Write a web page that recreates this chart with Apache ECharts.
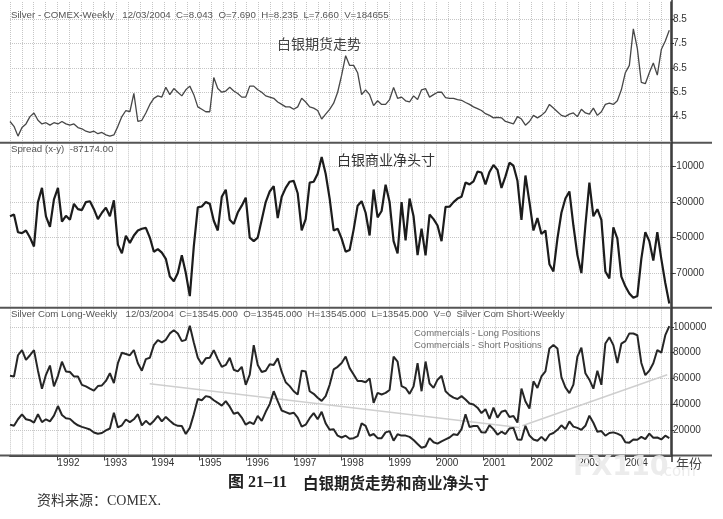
<!DOCTYPE html>
<html>
<head>
<meta charset="utf-8">
<title>白银期货走势和商业净头寸</title>
<script src="https://cdn.jsdelivr.net/npm/echarts@6/dist/echarts.min.js"></script>
<style>
html, body { margin: 0; padding: 0; background: #fff; }
#main { width: 723px; height: 519px; }
</style>
</head>
<body>
<div id="main"></div>
<script>
// 取样日期：约每 4.4 周一个点，从 1991 年初开始
var sampleCount = 166;
var sampleStep = 4 / 47.4;
var sampleDates = [];
for (var i = 0; i < sampleCount; i++) {
  sampleDates.push(+(1991 + i * sampleStep).toFixed(4));
}

// 白银期货价格（美元/盎司）
var silverPrice = [
  4.3, 4.1, 3.7, 4.05, 4.2, 4.5, 4.65, 4.35, 4.2, 4.25,
  4.15, 4.25, 4.2, 4.3, 4.2, 4.15, 4.2, 4.05, 4.0, 3.9,
  3.85, 3.9, 3.8, 3.85, 3.75, 3.7, 3.75, 4.1, 4.5, 4.75,
  4.7, 5.45, 4.3, 4.35, 4.65, 5.0, 5.25, 5.35, 5.3, 5.7,
  5.4, 5.65, 5.5, 5.35, 5.6, 5.75, 5.4, 4.9, 4.8, 4.7,
  4.7, 6.1, 5.65, 5.5, 5.55, 5.7, 5.55, 5.45, 5.3, 5.3,
  5.75, 5.75, 5.6, 5.5, 5.35, 5.3, 5.25, 5.1, 5.0, 4.9,
  4.9, 4.8, 4.9, 5.25, 5.1, 4.9, 4.85, 4.75, 4.4, 4.6,
  4.8, 5.05, 5.5, 6.2, 7.0, 6.6, 6.6, 6.3, 5.4, 5.6,
  5.4, 4.95, 5.15, 5.0, 5.0, 5.2, 5.7, 5.25, 5.3, 5.15,
  5.1, 5.35, 5.2, 5.6, 5.65, 5.3, 5.4, 5.5, 5.5, 5.28,
  5.25, 5.25, 5.2, 5.17, 5.08, 5.0, 4.9, 4.83, 4.75, 4.62,
  4.55, 4.45, 4.47, 4.45, 4.3, 4.25, 4.2, 4.5, 4.4, 4.15,
  4.3, 4.55, 4.45, 4.55, 4.7, 5.0, 4.85, 4.7, 4.55, 4.5,
  4.6, 4.65, 4.5, 4.8, 4.65, 4.6, 4.85, 4.55, 4.7, 5.0,
  5.05, 5.0, 5.15, 5.6, 6.3, 6.6, 8.1, 7.3, 5.9, 5.85,
  6.3, 6.7, 6.2, 7.25, 7.6, 8.04
];

// 商业净头寸 Spread (x-y)
var netSpread = [
  -38000, -37000, -47000, -47500, -46000, -50000, -55000, -30000, -22000, -38000,
  -44000, -28500, -22000, -41000, -37700, -40000, -31000, -34000, -34500, -30000,
  -29500, -34000, -39600, -36000, -33100, -38000, -29000, -54000, -58900, -49000,
  -53000, -48800, -46000, -45000, -44500, -50000, -58000, -56500, -58500, -62000,
  -72000, -74600, -70000, -60000, -70000, -83000, -55000, -33000, -32500, -30000,
  -31000, -40500, -46000, -27000, -23000, -40000, -42300, -35900, -32000, -27500,
  -50000, -52000, -50000, -40000, -30000, -24000, -21000, -39000, -27000, -22000,
  -18500, -18000, -25000, -46000, -39600, -19000, -18500, -14000, -4500, -14000,
  -28000, -46000, -45000, -50600, -58000, -57000, -45500, -32000, -29500, -36000,
  -48800, -22900, -38600, -35000, -20200, -30000, -52000, -59000, -30000, -51600,
  -28000, -38000, -59900, -45000, -60000, -37000, -39600, -43200, -52000, -32700,
  -32600, -30000, -28000, -27000, -19000, -20000, -18300, -12800, -13300, -20000,
  -13000, -9100, -11800, -22000, -15500, -7800, -9500, -18000, -40000, -15000,
  -30000, -46000, -39000, -48000, -46000, -65000, -69100, -50600, -36000, -28000,
  -24000, -43200, -59900, -70000, -43200, -19000, -38000, -34000, -40000, -69100,
  -73000, -44200, -50600, -72000, -77500, -81500, -84000, -83000, -62000, -46900,
  -52000, -63000, -47000, -62000, -75600, -87174
];

// 商业空头持仓
var shortPositions = [
  62000, 61500, 78000, 82000, 74400, 78000, 82000, 66000, 52000, 62800,
  70000, 53800, 62000, 73000, 65400, 65000, 61500, 61500, 55000, 53800,
  52000, 50500, 54000, 54500, 58000, 64000, 56400, 71800, 80000, 79000,
  78000, 82100, 71800, 66000, 75000, 76000, 85900, 89700, 88000, 90000,
  95000, 97400, 94900, 89000, 90000, 101000, 88000, 76000, 71000, 75600,
  76000, 82000, 75000, 69000, 70500, 76000, 66700, 65400, 69000, 55000,
  63000, 85900, 70500, 65000, 66000, 71000, 70500, 75600, 65000, 57000,
  54000, 50000, 47400, 66000, 65400, 50000, 48000, 45000, 42500, 46200,
  55000, 67000, 69000, 72000, 77000, 68000, 63000, 58000, 58000, 57000,
  60000, 41000, 48700, 47500, 48700, 51000, 76900, 73100, 54000, 52500,
  48000, 53800, 71800, 50000, 73100, 56000, 52600, 59000, 62000, 50000,
  47000, 45000, 44000, 46200, 43600, 40500, 39700, 37200, 33000, 36000,
  28500, 37200, 29500, 34000, 35000, 30000, 30800, 25600, 52000, 42000,
  36500, 57700, 52600, 61500, 65500, 83300, 85900, 83300, 61000, 53000,
  48500, 55100, 76900, 84000, 64000, 59000, 52000, 66000, 55000, 87200,
  92000, 85900, 72000, 87000, 89000, 95000, 94900, 93600, 72000, 62500,
  66000, 71800, 82100, 80000, 93600, 100719
];

// 商业多头持仓
var longPositions = [
  24000, 23100, 28200, 32000, 28200, 27500, 25600, 32100, 26000, 28200,
  26500, 31000, 38500, 31500, 29000, 28500, 25600, 23500, 22300, 21300,
  20200, 17900, 16900, 17500, 19500, 21000, 33300, 21800, 23500, 28000,
  26000, 28200, 32100, 23500, 27000, 24000, 26900, 30800, 26500, 30000,
  27000, 24400, 23100, 23000, 16700, 21500, 32000, 44000, 43000, 46200,
  45500, 43000, 41000, 38800, 42300, 38000, 32500, 33500, 29500, 24000,
  26000, 24400, 30800, 27000, 34000, 40000, 50000, 42300, 35000, 33800,
  32500, 33300, 29500, 22500, 24000, 29000, 33000, 28200, 34000, 25000,
  20000, 20500, 15400, 14000, 15400, 13000, 13500, 15000, 25000, 23100,
  15400, 16700, 13500, 13500, 18000, 19000, 11500, 16500, 15500, 15500,
  14500, 12000, 9000, 6000, 7000, 13500, 10300, 9200, 11000, 12500,
  14000, 16500, 16000, 20500, 32100, 22200, 23000, 23000, 18000, 17900,
  23500, 20500, 16200, 18500, 16700, 21000, 21500, 12500, 12200, 23100,
  15500, 12500, 11500, 14500, 11500, 16200, 17500, 20000, 23500, 20500,
  26500, 22500, 21500, 20000, 23100, 31000, 25500, 18500, 19000, 15400,
  17500, 18000, 17000, 15500, 10300, 10000, 12500, 12300, 14500, 12800,
  17000, 13800, 14000, 12500, 15400, 13545
];

// 浅色趋势线 [年份, 数值]
var trendDown = [[1993.95, 55900], [2001.75, 21800]];
var trendUp = [[2001.82, 23100], [2004.88, 62800]];

function pair(values) {
  return values.map(function (v, idx) { return [sampleDates[idx], v]; });
}

var labelFont = 'Liberation Sans, Arial, sans-serif';
var gridColor = '#c6c6c6';

function makeX(gridIndex, showLabel) {
  return {
    type: 'value',
    gridIndex: gridIndex,
    min: 1991,
    max: 2004.96,
    interval: 1,
    axisLine: { show: showLabel, lineStyle: { color: '#444', width: 2 } },
    axisTick: { show: showLabel, length: 5, lineStyle: { color: '#444' } },
    axisLabel: {
      show: showLabel,
      showMinLabel: false,
      showMaxLabel: false,
      formatter: function (v) { return String(Math.round(v)); },
      align: 'left',
      margin: 3,
      color: '#333',
      fontSize: 10,
      fontFamily: labelFont
    },
    splitLine: {
      show: true,
      lineStyle: { color: gridColor, type: 'dotted', width: 1 }
    },
    minorTick: { show: false, splitNumber: 4 },
    minorSplitLine: {
      show: true,
      lineStyle: { color: gridColor, type: 'dotted', width: 1 }
    }
  };
}

function makeY(gridIndex, min, max, interval) {
  return {
    type: 'value',
    gridIndex: gridIndex,
    position: 'right',
    min: min,
    max: max,
    interval: interval,
    axisLine: { show: true, lineStyle: { color: '#333', width: 1.5 } },
    axisTick: { show: true, length: 3, lineStyle: { color: '#333' } },
    axisLabel: {
      showMinLabel: false,
      showMaxLabel: false,
      formatter: function (v) { return String(v); },
      margin: 2,
      color: '#333',
      fontSize: 10,
      fontFamily: labelFont
    },
    splitLine: {
      show: true,
      showMinLine: false,
      showMaxLine: false,
      lineStyle: { color: gridColor, type: 'dotted', width: 1 }
    }
  };
}

function txt(x, y, text, font, fill) {
  return {
    type: 'text', x: x, y: y, z: 50,
    style: { text: text, font: font, fill: fill || '#444', verticalAlign: 'middle' }
  };
}

function hLine(y) {
  return {
    type: 'line', z: 40,
    shape: { x1: 0, y1: y, x2: 712, y2: y },
    style: { stroke: '#555', lineWidth: 2 }
  };
}

var chart = echarts.init(document.getElementById('main'), null, { renderer: 'canvas' });

var option = {
  animation: false,
  backgroundColor: '#fff',
  grid: [
    { left: 10, right: 52, top: 2, height: 139, outerBoundsMode: 'none' },
    { left: 10, right: 52, top: 142.7, height: 165.8, outerBoundsMode: 'none' },
    { left: 10, right: 52, top: 307.7, height: 147.8, outerBoundsMode: 'none' }
  ],
  xAxis: [makeX(0, false), makeX(1, false), makeX(2, true)],
  yAxis: [
    makeY(0, 3.5, 9.2, 1),
    makeY(1, -90000, 3500, 20000),
    makeY(2, 0, 115000, 20000)
  ],
  legend: {
    orient: 'vertical',
    left: 403,
    top: 323,
    itemWidth: 0,
    itemHeight: 0,
    itemGap: 2,
    selectedMode: false,
    textStyle: { color: '#6e6e6e', fontSize: 9.5, fontFamily: labelFont },
    data: ['Commercials - Long Positions', 'Commercials - Short Positions']
  },
  series: [
    {
      name: 'Silver', type: 'line', xAxisIndex: 0, yAxisIndex: 0,
      data: pair(silverPrice), symbol: 'none',
      lineStyle: { color: '#474747', width: 1.3 }
    },
    {
      name: 'Spread', type: 'line', xAxisIndex: 1, yAxisIndex: 1,
      data: pair(netSpread), symbol: 'none',
      lineStyle: { color: '#1c1c1c', width: 2.2 }
    },
    {
      name: 'trendDown', type: 'line', xAxisIndex: 2, yAxisIndex: 2,
      data: trendDown, symbol: 'none', silent: true,
      lineStyle: { color: '#cfcfcf', width: 1.5 }
    },
    {
      name: 'trendUp', type: 'line', xAxisIndex: 2, yAxisIndex: 2,
      data: trendUp, symbol: 'none', silent: true,
      lineStyle: { color: '#cfcfcf', width: 1.5 }
    },
    {
      name: 'Commercials - Short Positions', type: 'line', xAxisIndex: 2, yAxisIndex: 2,
      data: pair(shortPositions), symbol: 'none',
      lineStyle: { color: '#262626', width: 2 }
    },
    {
      name: 'Commercials - Long Positions', type: 'line', xAxisIndex: 2, yAxisIndex: 2,
      data: pair(longPositions), symbol: 'none',
      lineStyle: { color: '#262626', width: 2 }
    }
  ],
  graphic: {
    elements: [
      hLine(142.7),
      hLine(307.7),
      hLine(455.5),
      {
        type: 'line', z: 40,
        shape: { x1: 672, y1: 0, x2: 672, y2: 462 },
        style: { stroke: '#333', lineWidth: 1.5 }
      },
      txt(11, 15, 'Silver - COMEX-Weekly   12/03/2004  C=8.043  O=7.690  H=8.235  L=7.660  V=184655', '9.7px ' + labelFont, '#555'),
      txt(277, 44, '白银期货走势', '14px "Noto Sans CJK SC"', '#444'),
      txt(11, 149, 'Spread (x-y)  -87174.00', '9.7px ' + labelFont, '#555'),
      txt(337, 160, '白银商业净头寸', '14px "Noto Sans CJK SC"', '#333'),
      txt(11, 314, 'Silver Com Long-Weekly   12/03/2004  C=13545.000  O=13545.000  H=13545.000  L=13545.000  V=0  Silver Com Short-Weekly', '9.7px ' + labelFont, '#555'),
      txt(676, 463, '年份', '13px "Noto Sans CJK SC"', '#444'),
      txt(573, 468, 'FX110', 'bold 27px "DejaVu Sans"', 'rgba(234,234,234,0.92)'),
      txt(659, 472, '.com', '15px "DejaVu Sans"', 'rgba(234,234,234,0.92)'),
      txt(228, 483, '图 21–11', 'bold 16px "Liberation Serif", "Noto Sans CJK SC"', '#222'),
      txt(303, 483, '白银期货走势和商业净头寸', 'bold 15.5px "Noto Sans CJK SC"', '#222'),
      txt(37, 501, '资料来源：COMEX.', '14px "Liberation Serif", "Noto Sans CJK SC"', '#333')
    ]
  }
};

chart.setOption(option);
</script>
</body>
</html>
